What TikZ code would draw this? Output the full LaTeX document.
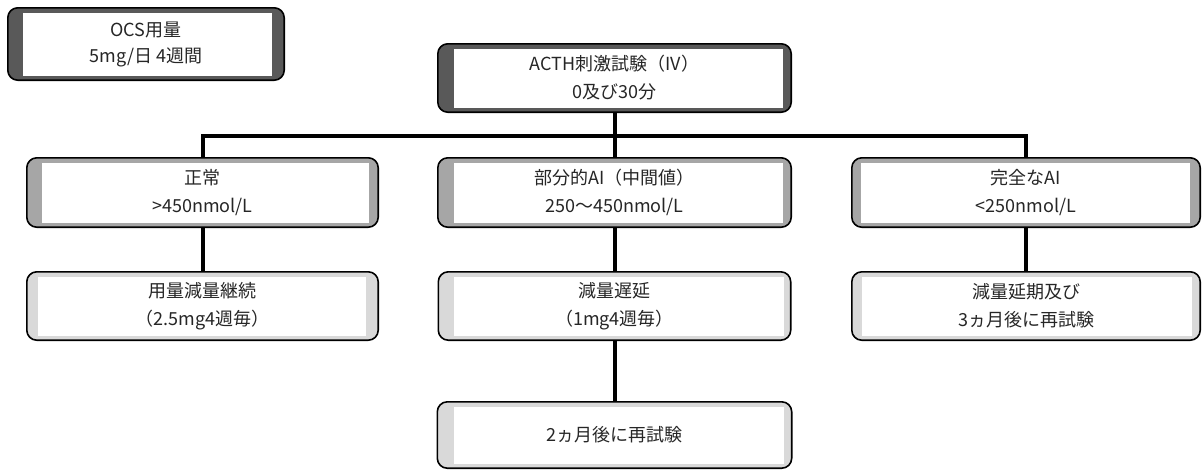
\documentclass[tikz,border=0pt]{standalone}
\usepackage{fontspec}
\setmainfont{Noto Sans CJK JP}
\definecolor{dk}{HTML}{595959}
\definecolor{md}{HTML}{A6A6A6}
\definecolor{lt}{HTML}{D9D9D9}
\definecolor{txt}{HTML}{262626}
\tikzset{
  bx/.style n args={5}{draw=black, line width=1.6pt, rounded corners=10pt, fill=#1,
    minimum width={(#2-1.6)*1pt}, minimum height={(#3-1.6)*1pt}, inner sep=0pt,
    align=center, text=txt, font=\fontsize{18}{28}\selectfont,
    path picture={\fill[white, sharp corners]
      ([xshift={(#4-0.8)*1pt}, yshift=-5.2pt]path picture bounding box.north west) rectangle
      ([xshift={(0.8-#5)*1pt}, yshift=4.2pt]path picture bounding box.south east);}},
  conn/.style={line width=4pt, draw=black}
}
\begin{document}
\begin{tikzpicture}[x=1pt, y=-1pt]
\useasboundingbox (0,0) rectangle (1203,471);
\node[bx={dk}{278}{74}{16}{13}, font=\fontsize{18}{26}\selectfont] (ocs) at (146,44) {OCS用量\\5mg/日 4週間};
\node[bx={dk}{355}{70}{17}{9}] (acth) at (614.5,78) {ACTH刺激試験（IV）\\0及び30分};
\node[bx={md}{353}{71}{16}{10}] (normal) at (202.5,192.5) {正常\\>450nmol/L};
\node[bx={md}{355}{71}{17}{9}] (partial) at (614.5,192.5) {部分的AI（中間値）\\250～450nmol/L};
\node[bx={md}{350}{71}{10}{11}] (complete) at (1026,192.5) {完全なAI\\<250nmol/L};
\node[bx={lt}{353}{70}{12}{13}] (cont) at (202.5,306) {用量減量継続\\（2.5mg4週毎）};
\node[bx={lt}{354}{70}{16}{8}] (delay) at (614.5,306) {減量遅延\\（1mg4週毎）};
\node[bx={lt}{350}{70}{11}{9}] (postpone) at (1026,306) {減量延期及び\\3ヵ月後に再試験};
\node[bx={lt}{356}{68}{17}{9}] (retest) at (614.5,435) {2ヵ月後に再試験};
\coordinate (bus) at (0,136);
\draw[conn] (normal.north) -- (normal.north |- bus) -- (complete.north |- bus) -- (complete.north);
\draw[conn] (acth.south) -- (acth.south |- bus);
\draw[conn] (partial.north) -- (partial.north |- bus);
\draw[conn] (normal.south) -- (cont.north);
\draw[conn] (partial.south) -- (delay.north);
\draw[conn] (complete.south) -- (postpone.north);
\draw[conn] (delay.south) -- (retest.north);
\end{tikzpicture}
\end{document}
